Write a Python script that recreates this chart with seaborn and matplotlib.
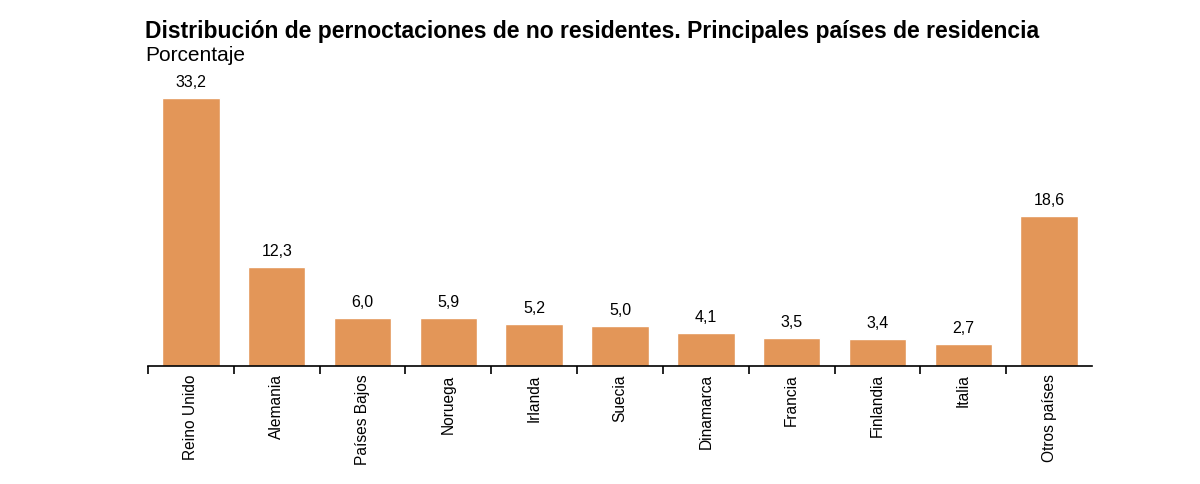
import matplotlib
matplotlib.use("Agg")
import matplotlib.pyplot as plt
import numpy as np
import pandas as pd
import seaborn as sns

# data
paises = ["Reino Unido", "Alemania", "Países Bajos", "Noruega", "Irlanda", "Suecia",
          "Dinamarca", "Francia", "Finlandia", "Italia", "Otros países"]
porcentaje = [33.2, 12.3, 6.0, 5.9, 5.2, 5.0, 4.1, 3.5, 3.4, 2.7, 18.6]

titulo = "Distribución de pernoctaciones de no residentes. Principales países de residencia"
subtitulo = "Porcentaje"
color_barra = "#E39658"

sns.set_style("white")
plt.rcParams["font.family"] = ["Liberation Sans", "DejaVu Sans"]

df = pd.DataFrame({"pais": paises, "pct": porcentaje})

fig = plt.figure(figsize=(12, 4.84), dpi=100)
ax = fig.add_axes([0.1233, 0.2438, 0.7867, 0.60])

sns.barplot(data=df, x="pais", y="pct", color=color_barra, saturation=1,
            width=0.67, ax=ax)

for i, v in enumerate(porcentaje):
    ax.text(i, v + 1.0, f"{v:.1f}".replace(".", ","), ha="center", va="bottom",
            fontsize=11.5, color="black")

ax.set_xlim(-0.5, len(paises) - 0.5)
ax.set_ylim(0, 36)
ax.set_xlabel("")
ax.set_ylabel("")
ax.set_yticks([])
for side in ["top", "right", "left"]:
    ax.spines[side].set_visible(False)
ax.spines["bottom"].set_color("black")
ax.spines["bottom"].set_linewidth(1.2)

# ticks sit on the category boundaries, labels centred under the bars
ax.set_xticks(np.arange(len(paises)) - 0.5)
ax.set_xticklabels([])
ax.set_xticks(np.arange(len(paises)), minor=True)
ax.set_xticklabels(paises, minor=True, rotation=90, fontsize=11.2, va="top", color="black")
ax.tick_params(axis="x", which="major", bottom=True, length=6, width=1.2,
               color="black", direction="out")
ax.tick_params(axis="x", which="minor", bottom=True, length=0, pad=6)

fig.text(0.121, 0.935, titulo, fontsize=16.5, fontweight="bold", va="center", ha="left",
         color="black")
fig.text(0.121, 0.885, subtitulo, fontsize=15, va="center", ha="left", color="black")

fig.savefig("out.png", dpi=100)
